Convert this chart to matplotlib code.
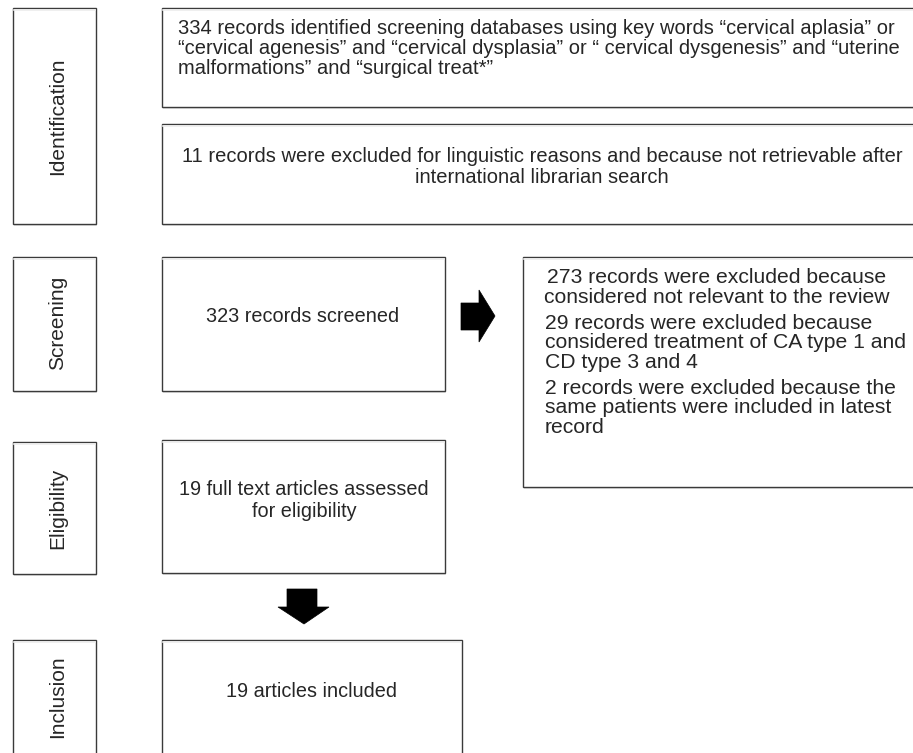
import matplotlib
matplotlib.use('Agg')
import matplotlib.pyplot as plt
from matplotlib.patches import Rectangle, Polygon

plt.rcParams['font.family'] = ['Liberation Sans', 'DejaVu Sans']

# ─── Content ───
stage_labels = ['Identification', 'Screening', 'Eligibility', 'Inclusion']

ident_lines = [
    '334 records identified screening databases using key words \u201ccervical aplasia\u201d or',
    '\u201ccervical agenesis\u201d and \u201ccervical dysplasia\u201d or \u201c cervical dysgenesis\u201d and \u201cuterine',
    'malformations\u201d and \u201csurgical treat*\u201d',
]
excl_lines = [
    '11 records were excluded for linguistic reasons and because not retrievable after',
    'international librarian search',
]
screen_lines = ['323 records screened']
elig_lines = ['19 full text articles assessed', 'for eligibility']
incl_lines = ['19 articles included']

reason_paras = [
    ['273 records were excluded because', 'considered not relevant to the review'],
    ['29 records were excluded because', 'considered treatment of CA type 1 and', 'CD type 3 and 4'],
    ['2 records were excluded because the', 'same patients were included in latest', 'record'],
]

# ─── Layout (pixel coordinates, y downwards) ───
W, H = 913, 753
TXT = '#262626'
EDGE = '#3a3a3a'

fig = plt.figure(figsize=(W / 100, H / 100), dpi=100)
ax = fig.add_axes([0, 0, 1, 1])
ax.set_xlim(0, W)
ax.set_ylim(H, 0)
ax.axis('off')


def box(x0, y0, x1, y1):
    # soft grey shadow under the box, then the box itself
    ax.add_patch(Rectangle((x0 + 1, y0 + 2), x1 - x0, y1 - y0, facecolor='#e4e4e4',
                           edgecolor='none', zorder=1))
    ax.add_patch(Rectangle((x0, y0), x1 - x0, y1 - y0, facecolor='white',
                           edgecolor=EDGE, linewidth=1.0, zorder=2))
    ax.plot([x0 + 1, x1 - 1], [y0 + 2, y0 + 2], color='#ececec', lw=1.2, zorder=2.5)


def lines(items, x, y0, pitch, ha='left', fs=14.3):
    for i, s in enumerate(items):
        ax.text(x, y0 + i * pitch, s, ha=ha, va='baseline', fontsize=fs, color=TXT, zorder=3)


# stage boxes on the left
stage_boxes = [(13, 8, 96, 224), (13, 257, 96, 391), (13, 442, 96, 574), (13, 640, 96, 760)]
stage_cy = [116, 323, 508, 697]
for lab, (x0, y0, x1, y1), cy in zip(stage_labels, stage_boxes, stage_cy):
    box(x0, y0, x1, y1)
    ax.text(58, cy, lab, rotation=90, ha='center', va='center', fontsize=15,
            color=TXT, zorder=3)

# main column
box(162, 8, 925, 107)
lines(ident_lines, 178, 34, 20, fs=14.5)

box(162, 124, 925, 224)
lines(excl_lines, 542, 162, 21, ha='center', fs=14.5)

box(162, 257, 445, 391)
lines(screen_lines, 303, 322, 20, ha='center')

box(162, 440, 445, 573)
lines(elig_lines, 304, 495, 22, ha='center')

box(162, 640, 462, 760)
lines(incl_lines, 312, 697, 20, ha='center')

# exclusion reasons box
box(523, 257, 925, 487)
lines(reason_paras[0], 717, 283, 19.5, ha='center', fs=15.2)
lines(reason_paras[1], 545, 328.5, 19.5, fs=15.2)
lines(reason_paras[2], 545, 393.5, 19.5, fs=15.2)

# block arrows
ax.add_patch(Polygon([(461, 303), (479, 303), (479, 290), (495, 316), (479, 342),
                      (479, 330), (461, 330)], closed=True, facecolor='black',
                     edgecolor='black', lw=0.5, zorder=3))
ax.add_patch(Polygon([(287, 589), (317, 589), (317, 607), (329, 607), (304, 624),
                      (278, 607), (287, 607)], closed=True, facecolor='black',
                     edgecolor='black', lw=0.5, zorder=3))

fig.savefig('out.png', dpi=100)
plt.close(fig)
